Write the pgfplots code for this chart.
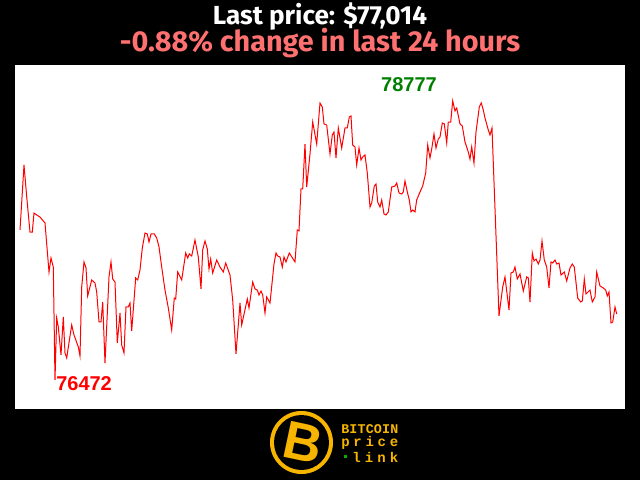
\documentclass[border=0pt]{standalone}
\usepackage{pgfplots}
\pgfplotsset{compat=1.18}
\usepackage{fontspec}
\setmainfont{Fira Sans}
\newfontfamily\labfont{Liberation Sans}
\newfontfamily\monofont{Liberation Mono}
\definecolor{salmon}{RGB}{255,112,112}
\definecolor{gold}{RGB}{247,181,0}
\definecolor{dgreen}{RGB}{0,128,0}
\newcommand\spread[2]{\hbox to #1{#2}}
\begin{document}
\begin{tikzpicture}[x=0.75pt,y=0.75pt]
\useasboundingbox (0,0) rectangle (640,480);
\fill[black] (0,0) rectangle (640,480);
\begin{axis}[
  at={(11.25pt,53.25pt)}, anchor=south west,
  scale only axis, width=457.5pt, height=258pt,
  xmin=15, xmax=625, ymin=76232, ymax=79074,
  axis background/.style={fill=white},
  axis line style={draw=none}, ticks=none,
  clip=false,
]
\addplot[red, line width=0.75pt, mark=none] coordinates {
(20,77711)(24,78248)(26.7,77986)(30,77694)(32.3,77694)(34,77851)(36.7,77835)(40,77818)(45,77769)
(49,77364)(51,77480)(53.3,77405)(55,76472)(56.7,76984)(58.3,76910)(61,76679)(63.3,76992)(65,76695)
(66.7,76654)(71.7,76926)(74,76844)(78.3,76745)(80,76670)(81.7,77240)(84,77447)(86,77397)(87.7,77166)
(91.7,77298)(95,77273)(96.7,77199)(99,76951)(101,76951)(102.7,77116)(105,76612)(109,77323)(111,77447)
(112.7,77306)(115,77281)(117.3,76778)(120,77025)(121.7,76761)(124,76695)(126,77075)(128.3,77075)
(130,77108)(131.7,76877)(135.7,77315)(137.7,77298)(140,77381)(142.3,77562)(145,77686)(147.3,77678)
(149,77612)(151,77678)(154.3,77678)(156.7,77645)(159,77571)(161.7,77405)(165,77215)(168.3,77067)
(171.7,76885)(174.3,77149)(175.7,77141)(177.7,77364)(181.7,77298)(185.7,77521)(187.7,77480)
(189.3,77513)(191.7,77496)(195,77628)(198.3,77488)(201,77224)(202.7,77546)(205,77620)(207.3,77554)
(209,77389)(210.7,77471)(212.7,77356)(216.7,77463)(220,77405)(223.3,77364)(225.7,77438)(230,77339)
(232.7,77133)(236,76687)(240,77108)(241.7,76926)(247.3,77141)(249,77067)(252.7,77281)(255,77224)
(257.3,77215)(259,77174)(261,77207)(262.7,77174)(265,77025)(266.7,77158)(270,77108)(274,77430)
(276,77521)(277.7,77496)(280,77488)(282.3,77405)(284,77488)(286,77447)(289.3,77521)(295,77447)
(297.3,77711)(299,77703)(301,78050)(302.7,78050)(305,78421)(306.7,78066)(310,78339)(312.7,78603)
(316.7,78421)(320,78760)(322.3,78727)(324,78587)(326.7,78578)(330,78339)(332.3,78496)(334,78520)
(336,78306)(338.3,78554)(341.7,78388)(345,78554)(347.3,78554)(349.3,78644)(351,78653)(352.7,78413)
(355,78397)(356.7,78248)(359,78388)(361,78289)(362.7,78314)(365,78331)(367.3,78182)(370,77901)
(371.7,77934)(374.3,78074)(376,78091)(377.7,77942)(380,77901)(381.7,77959)(384,77843)(386,77835)
(388.3,77860)(391.7,78066)(395,78074)(396.7,78099)(399,78017)(401.7,78008)(403.3,78025)(405,78116)
(407.3,78025)(409.3,77959)(411,77860)(412.7,77876)(415,77860)(416.7,77959)(420,78025)(422.7,78074)
(425.7,78182)(427.7,78413)(430,78306)(431.7,78380)(434,78504)(436,78388)(438.3,78463)(440,78479)
(442.3,78595)(444.3,78587)(446.7,78430)(448.3,78603)(450.7,78603)(452.7,78777)(455,78694)
(456.7,78719)(460,78587)(462.3,78570)(465,78438)(468.3,78355)(470,78297)(471.7,78397)(474,78264)
(476,78520)(479.3,78727)(481.3,78760)(483.3,78702)(485,78636)(488.3,78537)(490,78496)(492,78554)
(499,77001)(502.7,77240)(505,77323)(509,77050)(511,77356)(513.3,77364)(515,77405)(517.3,77306)
(520,77348)(523.3,77207)(526.7,77323)(528.3,77315)(530,77116)(532.3,77521)(534,77455)(536,77471)
(538.3,77430)(540,77463)(542,77620)(544.3,77463)(546.7,77405)(549,77232)(551,77447)(552.7,77438)
(555,77463)(556.7,77430)(559,77438)(561,77339)(564.3,77364)(566.7,77290)(570,77397)(572.3,77430)
(574.3,77405)(577.7,77149)(580.7,77116)(582.3,77125)(584.3,77306)(586,77182)(590,77215)(592.3,77116)
(595,77158)(596.7,77364)(600,77248)(603.3,77232)(605.7,77215)(607.3,77166)(609,77199)(611,76943)
(612.7,76951)(615,77075)(616.7,77017)
};
\node[text=dgreen, font=\labfont\bfseries\fontsize{15pt}{15pt}\selectfont] at (axis cs:409,78909) {78777};
\node[text=red, font=\labfont\bfseries\fontsize{15pt}{15pt}\selectfont, anchor=west, inner sep=0pt] at (axis cs:56,76443) {76472};
\end{axis}
\node[text=white, font=\bfseries\fontsize{19.6pt}{19.6pt}\selectfont] at (320,463) {Last price: \$77,014};
\node[text=salmon, font=\bfseries\fontsize{21.6pt}{21.6pt}\selectfont] at (320,437) {-0.88\% change in last 24 hours};
% logo
\fill[gold] (301.5,37.5) circle (31.5);
\fill[black] (301.5,37.5) circle (27.5);
\node[text=gold, rotate=-12, font=\labfont\bfseries\fontsize{40pt}{40pt}\selectfont] at (303,37) {B};
\node[text=gold, anchor=west, inner sep=0pt, font=\monofont\bfseries\fontsize{10pt}{10pt}\selectfont] at (341,51) {\spread{42.75pt}{B\hfil I\hfil T\hfil C\hfil O\hfil I\hfil N}};
\node[text=gold, anchor=west, inner sep=0pt, font=\monofont\bfseries\fontsize{10.5pt}{10.5pt}\selectfont] at (341,37) {\spread{42.75pt}{p\hfil r\hfil i\hfil c\hfil e}};
\node[text=gold, anchor=west, inner sep=0pt, font=\monofont\bfseries\fontsize{10.5pt}{10.5pt}\selectfont] at (352,23) {\spread{34.5pt}{l\hfil i\hfil n\hfil k}};
\fill[green!70!black] (343.5,22) rectangle +(3,3);
\end{tikzpicture}
\end{document}
